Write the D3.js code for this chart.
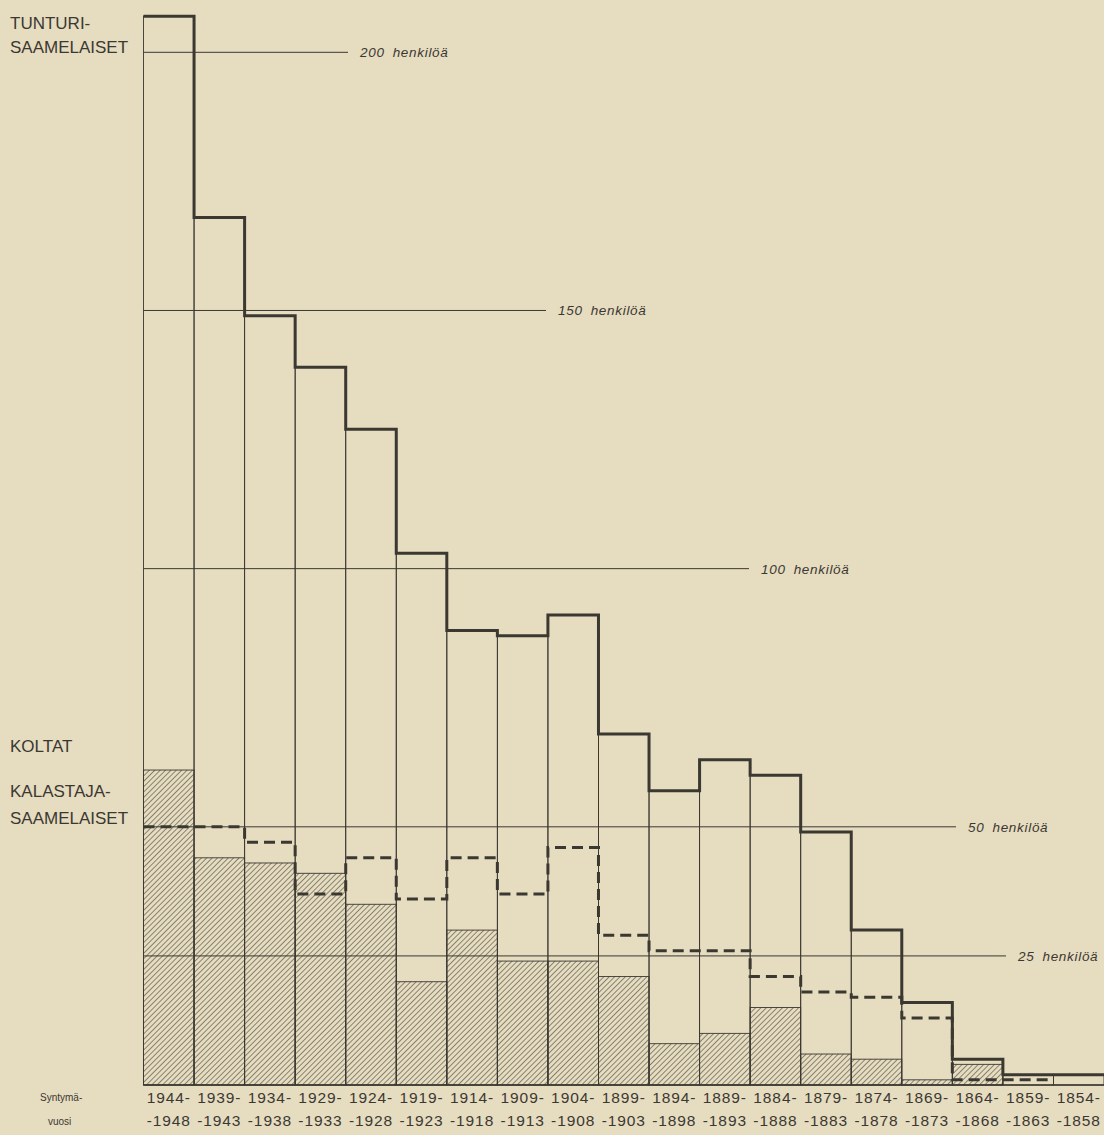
<!DOCTYPE html>
<html>
<head>
<meta charset="utf-8">
<script src="https://cdn.jsdelivr.net/npm/d3@7"></script>
<style>
  html, body { margin: 0; padding: 0; background: #e6dcc0; }
  svg { display: block; }
</style>
</head>
<body>
<svg id="chart" width="1104" height="1135"></svg>
<script>
// ---- data ----
const startYears = [1944, 1939, 1934, 1929, 1924, 1919, 1914, 1909, 1904, 1899, 1894, 1889, 1884, 1879, 1874, 1869, 1864, 1859, 1854];
const endYears   = [1948, 1943, 1938, 1933, 1928, 1923, 1918, 1913, 1908, 1903, 1898, 1893, 1888, 1883, 1878, 1873, 1868, 1863, 1858];
const categories = startYears.map((s, i) => s + "-" + endYears[i]);
const tunturisaamelaiset   = [207, 168, 149, 139, 127, 103, 88, 87, 91, 68, 57, 63, 60, 49, 30, 16, 5, 2, 2];
const kalastajasaamelaiset = [50, 50, 47, 37, 44, 36, 44, 37, 46, 29, 26, 26, 21, 18, 17, 13, 1, 1, 0];
const koltat               = [61, 44, 43, 41, 35, 20, 30, 24, 24, 21, 8, 10, 15, 6, 5, 1, 4, 0, 0];
const gridValues = [200, 150, 100, 50, 25];
const gridUnit = "henkilöä";

// ---- layout ----
const ink = "#3b3832";
const svg = d3.select("#chart");
const x = d3.scaleBand().domain(categories).range([143.5, 1104]).padding(0);
const y = d3.scaleLinear().domain([0, 200]).range([1085, 52.3]);
const bw = x.bandwidth();
const gridEnd = {200: 348, 150: 546, 100: 749, 50: 956, 25: 1006};

// hatch pattern
const defs = svg.append("defs");
const pat = defs.append("pattern")
  .attr("id", "hatch").attr("patternUnits", "userSpaceOnUse")
  .attr("width", 3.8).attr("height", 3.8)
  .attr("patternTransform", "rotate(45)");
pat.append("line").attr("x1", 0).attr("y1", 0).attr("x2", 0).attr("y2", 3.8)
  .attr("stroke", ink).attr("stroke-width", 1.1);

// column outlines (tunturi boxes)
svg.append("g").selectAll("rect").data(categories).join("rect")
  .attr("x", d => x(d)).attr("y", (d, i) => y(tunturisaamelaiset[i]))
  .attr("width", bw).attr("height", (d, i) => y(0) - y(tunturisaamelaiset[i]))
  .attr("fill", "none").attr("stroke", ink).attr("stroke-width", 0.9);

// koltat hatched bars
svg.append("g").selectAll("rect").data(categories).join("rect")
  .filter((d, i) => koltat[i] > 0)
  .attr("x", d => x(d)).attr("y", (d, i) => y(koltat[i]))
  .attr("width", bw).attr("height", (d, i) => y(0) - y(koltat[i]))
  .attr("fill", "url(#hatch)").attr("stroke", ink).attr("stroke-width", 0.9);

// grid reference lines + labels
const gg = svg.append("g");
gridValues.forEach(v => {
  gg.append("line").attr("x1", x(categories[0])).attr("x2", gridEnd[v])
    .attr("y1", y(v)).attr("y2", y(v)).attr("stroke", ink).attr("stroke-width", 1);
  const t = gg.append("text").attr("x", gridEnd[v] + 12).attr("y", y(v) + 5)
    .attr("font-family", "Liberation Sans, sans-serif").attr("font-style", "italic")
    .attr("font-size", 13.5).attr("fill", ink).attr("letter-spacing", 0.7);
  t.append("tspan").text(v);
  t.append("tspan").attr("dx", 8).text(gridUnit);
});

// baseline
svg.append("line").attr("x1", x(categories[0])).attr("x2", 1104)
  .attr("y1", y(0)).attr("y2", y(0)).attr("stroke", ink).attr("stroke-width", 1.4);

// step helper
function stepPoints(vals) {
  const pts = [];
  vals.forEach((v, i) => {
    pts.push({x: x(categories[i]), v});
    pts.push({x: x(categories[i]) + bw, v});
  });
  return pts;
}
const line = d3.line().x(d => d.x).y(d => y(d.v));

// kalastajasaamelaiset dashed step
svg.append("path")
  .attr("d", d3.line().defined(d => d.v > 0).x(d => d.x).y(d => y(d.v))(stepPoints(kalastajasaamelaiset)))
  .attr("fill", "none").attr("stroke", ink).attr("stroke-width", 3)
  .attr("stroke-dasharray", "11,6");

// tunturisaamelaiset thick step
svg.append("path")
  .attr("d", line(stepPoints(tunturisaamelaiset)))
  .attr("fill", "none").attr("stroke", ink).attr("stroke-width", 3)
  .attr("stroke-linejoin", "miter");

// x axis with two-line labels
const axis = svg.append("g").attr("transform", `translate(0,${y(0)})`)
  .call(d3.axisBottom(x).tickSize(0).tickPadding(0));
axis.select(".domain").remove();
axis.selectAll(".tick text").each(function(d, i) {
  const t = d3.select(this).text(null)
    .attr("font-family", "Liberation Sans, sans-serif").attr("font-size", 15.5)
    .attr("fill", ink).attr("letter-spacing", 0.9).attr("dy", null).attr("y", 0);
  t.append("tspan").attr("x", 0).attr("y", 18).text(startYears[i] + "-");
  t.append("tspan").attr("x", 0).attr("y", 41).text("-" + endYears[i]);
});

// left labels
const lab = svg.append("g").attr("font-family", "Liberation Sans, sans-serif")
  .attr("fill", ink).attr("font-size", 17);
[["TUNTURI-", 29], ["SAAMELAISET", 53], ["KOLTAT", 752], ["KALASTAJA-", 797], ["SAAMELAISET", 824]]
  .forEach(([s, yy]) => lab.append("text").attr("x", 10).attr("y", yy).text(s));
const lab2 = svg.append("g").attr("font-family", "Liberation Sans, sans-serif")
  .attr("fill", ink).attr("font-size", 10);
lab2.append("text").attr("x", 40).attr("y", 1101).text("Syntymä-");
lab2.append("text").attr("x", 48).attr("y", 1125).text("vuosi");
</script>
</body>
</html>
